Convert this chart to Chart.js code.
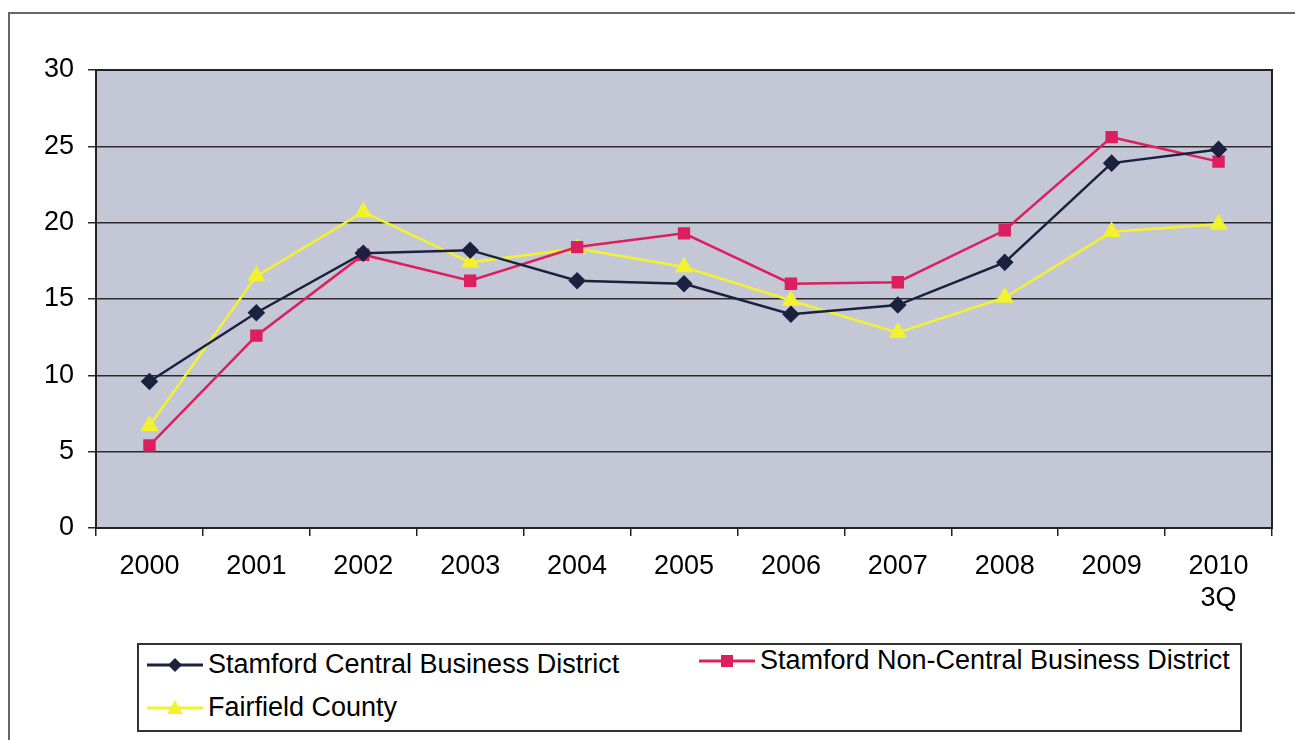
<!DOCTYPE html>
<html lang="en">
<head>
<meta charset="UTF-8">
<title>Stamford vacancy</title>
<style>
  body {
    margin: 0;
    width: 1295px;
    height: 740px;
    background: #ffffff;
    position: relative;
    overflow: hidden;
    font-family: "Liberation Sans", Arial, sans-serif;
  }
  .frame {
    position: absolute;
    left: 8px;
    top: 12px;
    width: 1300px;
    height: 740px;
    border-left: 2px solid #666;
    border-top: 2px solid #666;
  }
  #chartBox {
    position: absolute;
    left: 0;
    top: 0;
    width: 1295px;
    height: 620px;
  }
  .legend {
    position: absolute;
    left: 137px;
    top: 643px;
    width: 1101px;
    height: 85px;
    border: 2px solid #333;
    background: #fff;
  }
  .item {
    position: absolute;
    font-size: 27px;
    line-height: 31px;
    color: #000;
    display: flex;
    align-items: center;
    white-space: nowrap;
  }
  .item canvas { margin-right: 3px; }
</style>
</head>
<body>
<div class="frame"></div>
<div id="chartBox"><canvas id="myChart" width="1295" height="620"></canvas></div>
<div class="legend" id="legend"></div>

<script src="https://cdn.jsdelivr.net/npm/chart.js"></script>
<script>
    const years = ['2000', '2001', '2002', '2003', '2004', '2005', '2006', '2007', '2008', '2009', ['2010', '3Q']];
    const centralCBD = [9.6, 14.1, 18.0, 18.2, 16.2, 16.0, 14.0, 14.6, 17.4, 23.9, 24.8];
    const nonCentralCBD = [5.4, 12.6, 17.9, 16.2, 18.4, 19.3, 16.0, 16.1, 19.5, 25.6, 24.0];
    const fairfield = [6.7, 16.5, 20.7, 17.4, 18.3, 17.1, 14.9, 12.8, 15.1, 19.4, 19.9];
    const yTicks = [0, 5, 10, 15, 20, 25, 30];

    const seriesNames = ['Stamford Central Business District', 'Stamford Non-Central Business District', 'Fairfield County'];
    const seriesColors = ['#1c2140', '#dc1f5e', '#f2f22e'];
    const seriesStyles = ['rectRot', 'rect', 'triangle'];
    const seriesRadius = [7, 7, 8];

    const tickFont = { family: '"Liberation Sans", Arial, sans-serif', size: 27 };

    // Plot area background + border
    const plotBg = {
        id: 'plotBg',
        beforeDraw(chart) {
            const a = chart.chartArea;
            const c = chart.ctx;
            c.save();
            c.fillStyle = '#c4c8d6';
            c.fillRect(a.left, a.top, a.right - a.left, a.bottom - a.top);
            c.restore();
        },
        afterDraw(chart) {
            const a = chart.chartArea;
            const c = chart.ctx;
            c.save();
            c.strokeStyle = '#222';
            c.lineWidth = 2;
            c.strokeRect(a.left, a.top, a.right - a.left, a.bottom - a.top);
            c.restore();
        }
    };

    const ctx = document.getElementById('myChart').getContext('2d');
    const datasets = [centralCBD, nonCentralCBD, fairfield].map((vals, i) => ({
        label: seriesNames[i],
        data: vals,
        borderColor: seriesColors[i],
        backgroundColor: seriesColors[i],
        pointBackgroundColor: seriesColors[i],
        pointBorderColor: seriesColors[i],
        pointStyle: seriesStyles[i],
        pointRadius: seriesRadius[i],
        borderWidth: 2.5,
        tension: 0,
        fill: false,
        order: i + 1
    }));

    const myChart = new Chart(ctx, {
        type: 'line',
        data: { labels: years, datasets: datasets },
        options: {
            responsive: false,
            animation: false,
            layout: { padding: { top: 70, right: 23, left: 0, bottom: 0 } },
            plugins: {
                legend: { display: false },
                tooltip: { enabled: false }
            },
            scales: {
                x: {
                    offset: true,
                    afterFit(scale) { scale.height = 92; },
                    grid: {
                        display: true,
                        offset: true,
                        drawOnChartArea: false,
                        tickLength: 8,
                        color: '#222',
                        lineWidth: 1.5
                    },
                    border: { display: true, color: '#222', width: 2 },
                    ticks: {
                        color: '#000',
                        padding: 14,
                        maxRotation: 0,
                        autoSkip: false,
                        font: tickFont
                    }
                },
                y: {
                    min: 0,
                    max: 30,
                    afterFit(scale) { scale.width = 96; },
                    afterBuildTicks(scale) { scale.ticks = yTicks.map(v => ({ value: v })); },
                    grid: {
                        color: '#2a2a2a',
                        lineWidth: 1.5,
                        tickLength: 8
                    },
                    border: { display: true, color: '#222', width: 2 },
                    ticks: {
                        color: '#000',
                        padding: 14,
                        font: tickFont
                    }
                }
            }
        },
        plugins: [plotBg]
    });

    // HTML legend: line + marker sample on a small canvas, then the name
    const legendPos = [
        { left: 6, top: 4 },
        { left: 558, top: 0 },
        { left: 6, top: 47 }
    ];
    const legend = document.getElementById('legend');
    seriesNames.forEach((name, i) => {
        const item = document.createElement('div');
        item.className = 'item';
        item.style.left = legendPos[i].left + 'px';
        item.style.top = legendPos[i].top + 'px';
        const cv = document.createElement('canvas');
        cv.width = 60; cv.height = 30;
        const g = cv.getContext('2d');
        g.strokeStyle = seriesColors[i];
        g.lineWidth = 3;
        g.beginPath(); g.moveTo(2, 15); g.lineTo(58, 15); g.stroke();
        g.fillStyle = seriesColors[i];
        g.beginPath();
        if (seriesStyles[i] === 'rectRot') {
            g.moveTo(30, 8); g.lineTo(37, 15); g.lineTo(30, 22); g.lineTo(23, 15);
        } else if (seriesStyles[i] === 'rect') {
            g.rect(24, 9, 12, 12);
        } else {
            g.moveTo(30, 7); g.lineTo(38, 21); g.lineTo(22, 21);
        }
        g.closePath(); g.fill();
        const span = document.createElement('span');
        span.textContent = name;
        item.appendChild(cv);
        item.appendChild(span);
        legend.appendChild(item);
    });
</script>
</body>
</html>
